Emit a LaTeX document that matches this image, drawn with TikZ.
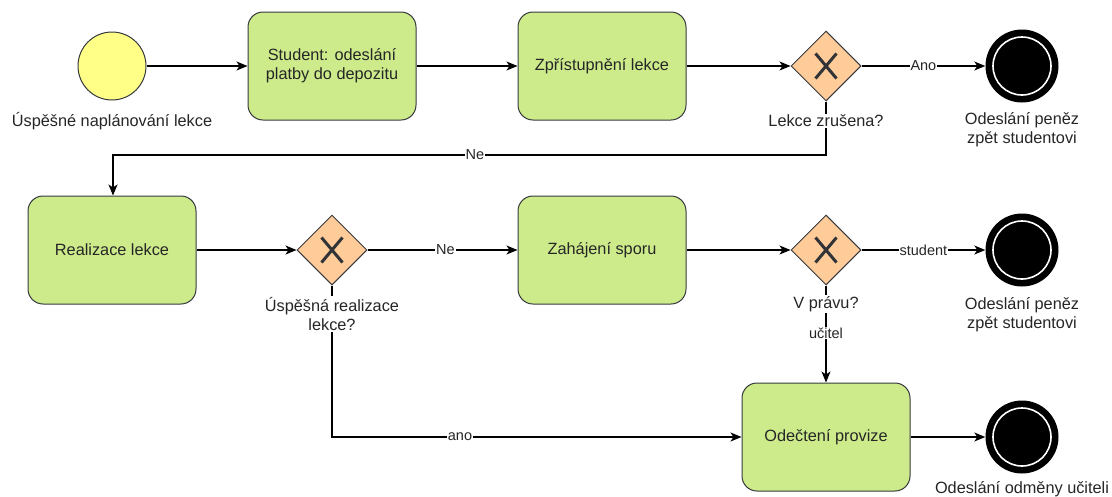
\documentclass[tikz,border=0pt]{standalone}
\usepackage{fontspec}
\setmainfont{Liberation Sans}
\usetikzlibrary{shapes.geometric,arrows.meta}
\definecolor{taskfill}{HTML}{CDEB8B}
\definecolor{gatefill}{HTML}{FFCC99}
\definecolor{startfill}{HTML}{FFFF88}
\definecolor{bord}{HTML}{36393D}
\definecolor{txt}{HTML}{262626}
\tikzset{
  main/.style={font=\fontsize{16.3}{19}\selectfont, text=txt, align=center},
  task/.style={main, rectangle, rounded corners=15pt, draw=bord, fill=taskfill, line width=1pt,
    minimum width=168pt, minimum height=108pt, inner sep=0pt},
  gate/.style={diamond, aspect=1, draw=bord, fill=gatefill, line width=1pt,
    minimum width=70pt, minimum height=70pt, inner sep=0pt},
  startev/.style={circle, draw=bord, fill=startfill, line width=1pt, minimum size=68pt, inner sep=0pt},
  endev/.style={circle, fill=black, minimum size=73pt, inner sep=0pt},
  evlabel/.style={main, fill=white, inner sep=1pt},
  flow/.style={draw=black, line width=1.2pt, -{Stealth[length=11pt,width=9pt,inset=3pt]}},
  lbl/.style={font=\fontsize{14.5}{16}\selectfont, text=txt, fill=white, inner sep=1pt},
  xmark/.style={draw=bord!90!black, line width=3pt}
}
\newcommand{\gatecross}[1]{%
  \draw[xmark] ([shift={(-10.5,-12.5)}]#1.center) -- ([shift={(10.5,12.5)}]#1.center);
  \draw[xmark] ([shift={(-10.5,12.5)}]#1.center) -- ([shift={(10.5,-12.5)}]#1.center);}
\newcommand{\whitering}[1]{%
  \draw[white, line width=1.6pt] (#1.center) circle (29pt);}
\begin{document}
\begin{tikzpicture}[x=1pt,y=-1pt]
\useasboundingbox (0,0) rectangle (1112,496);

% first row
\node[startev] (s) at (112,66) {};
\node[task] (t1) at (332,66) {Student: odeslání\\platby do depozitu};
\node[task] (t2) at (602,66) {Zpřístupnění lekce};
\node[gate] (g1) at (826,66) {};
\node[endev] (e1) at (1022,66) {};

% second row
\node[task] (t3) at (112,250) {Realizace lekce};
\node[gate] (g2) at (332,250) {};
\node[task] (t4) at (602,250) {Zahájení sporu};
\node[gate] (g3) at (826,250) {};
\node[endev] (e2) at (1022,250) {};

% third row
\node[task] (t5) at (826,437) {Odečtení provize};
\node[endev] (e3) at (1022,437) {};

\gatecross{g1}\gatecross{g2}\gatecross{g3}
\whitering{e1}\whitering{e2}\whitering{e3}

\coordinate (c1) at (826,155);
\coordinate (c2) at (113,155);

% sequence flows
\draw[flow] (s) -- (t1);
\draw[flow] (t1) -- (t2);
\draw[flow] (t2) -- (g1);
\draw[flow] (g1) -- node[lbl] (lano) {Ano} (e1);
\draw[flow] (g1.south) -- (c1) -- (c2) -- (c2 |- t3.north);
\draw[flow] (t3) -- (g2);
\draw[flow] (g2) -- node[lbl, pos=0.52] (lne) {Ne} (t4);
\draw[flow] (t4) -- (g3);
\draw[flow] (g3) -- node[lbl] (lstud) {student} (e2);
\draw[flow] (g3.south) -- (t5.north);
\draw[flow] (g2.south) |- (t5.west);
\draw[flow] (t5) -- (e3);

% flow labels
\node[lbl] (lne2) at (475,155) {Ne};
\node[lbl] (lucit) at (826,333) {učitel};
\node[lbl] (lano2) at (460,437) {ano};

% event and gateway labels
\node[evlabel] (ls) at (112,121) {Úspěšné naplánování lekce};
\node[evlabel] (lg1) at (826,121) {Lekce zrušena?};
\node[evlabel] (le1) at (1022,130) {Odeslání peněz\\zpět studentovi};
\node[evlabel] (lg2) at (332,314) {Úspěšná realizace\\lekce?};
\node[evlabel] (lg3) at (826,304) {V právu?};
\node[evlabel] (le2) at (1022,315) {Odeslání peněz\\zpět studentovi};
\node[evlabel] (le3) at (1022,489) {Odeslání odměny učiteli};
\end{tikzpicture}
\end{document}
